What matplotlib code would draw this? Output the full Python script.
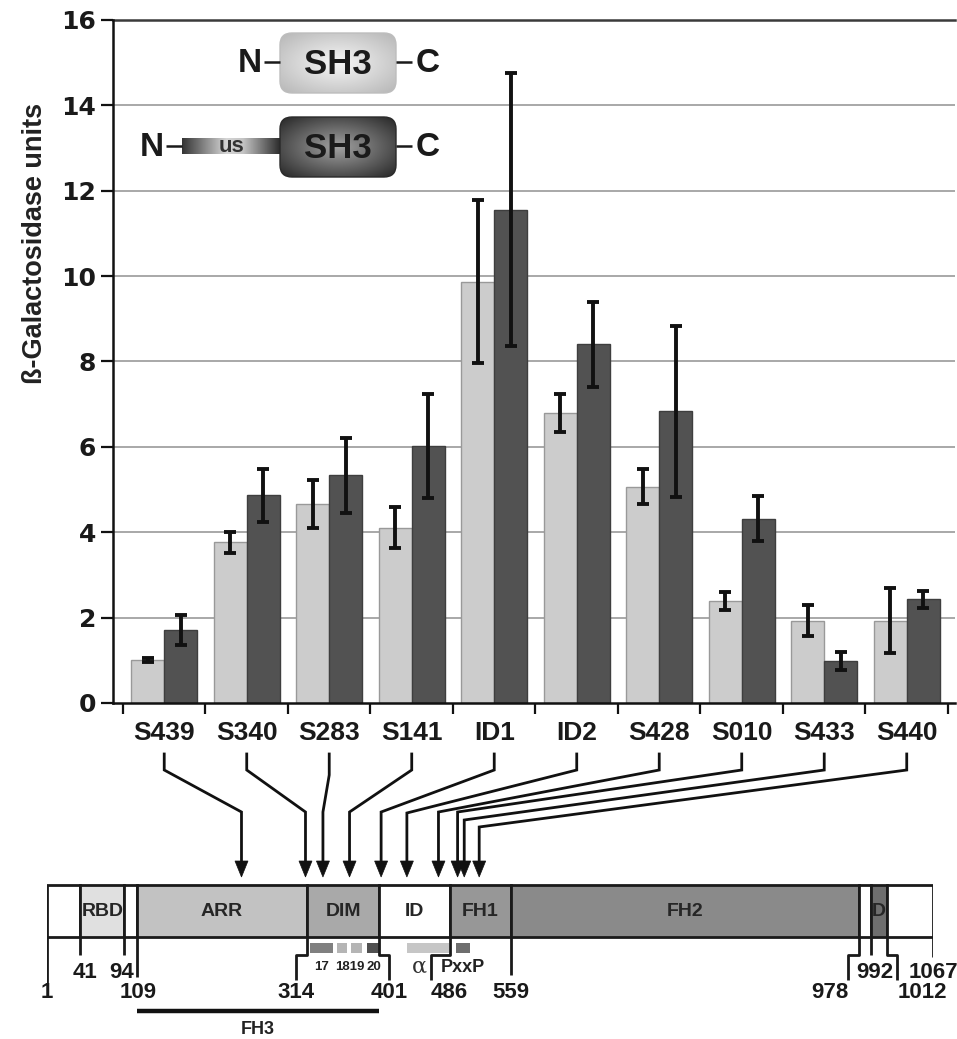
import numpy as np
import matplotlib
matplotlib.use('Agg')
import matplotlib.pyplot as plt
from matplotlib.patches import Rectangle, FancyBboxPatch, Polygon
from matplotlib.colors import LinearSegmentedColormap

plt.rcParams['font.family'] = ['Liberation Sans', 'DejaVu Sans']

# ---------------- data ----------------
categories = ['S439', 'S340', 'S283', 'S141', 'ID1', 'ID2', 'S428', 'S010', 'S433', 'S440']
sh3_mean = [1.00, 3.76, 4.66, 4.11, 9.87, 6.80, 5.07, 2.39, 1.93, 1.93]
sh3_err = [0.05, 0.24, 0.56, 0.49, 1.91, 0.45, 0.40, 0.21, 0.36, 0.77]
us_sh3_mean = [1.71, 4.87, 5.33, 6.03, 11.56, 8.40, 6.83, 4.32, 0.99, 2.43]
us_sh3_err = [0.34, 0.62, 0.87, 1.22, 3.20, 1.00, 2.00, 0.52, 0.21, 0.20]
y_ticks = [0, 2, 4, 6, 8, 10, 12, 14, 16]

# residue in the protein each clone points to
arrow_targets = [235, 312, 333, 365, 403, 434, 472, 495, 503, 521]

domain_starts = [1, 41, 94, 109, 314, 401, 486, 559, 978, 992, 1012]
domain_ends = [41, 94, 109, 314, 401, 486, 559, 978, 992, 1012, 1067]
domain_labels = ['', 'RBD', '', 'ARR', 'DIM', 'ID', 'FH1', 'FH2', '', 'D', '']
domain_colors = ['white', '#e0e0e0', 'white', '#c2c2c2', '#a9a9a9', 'white',
                 '#979797', '#8a8a8a', 'white', '#6e6e6e', 'white']

residue_marks = [1, 41, 94, 109, 314, 401, 486, 559, 978, 992, 1012, 1067]

helix_starts = [317, 350, 367, 386]
helix_ends = [345, 362, 380, 402]
helix_labels = ['17', '18', '19', '20']
helix_colors = ['#808080', '#b5b5b5', '#b5b5b5', '#505050']

alpha_region = (434, 485)
pxxp_region = (493, 510)
fh3_region = (109, 401)

W, H = 957, 1039
fig = plt.figure(figsize=(W / 100, H / 100), dpi=100)

# ---------------- bar chart ----------------
ax = fig.add_axes([113 / W, (H - 703) / H, (955 - 113) / W, (703 - 20) / H])
x = np.arange(len(categories))
for v in y_ticks[1:-1]:
    ax.axhline(v, color='#a8a8a8', lw=1.4, zorder=1)
ax.axhline(16, color='#3a3a3a', lw=1.8, zorder=1, clip_on=False)
ax.bar(x - 0.2, sh3_mean, 0.4, color='#cccccc', edgecolor='#999999', lw=1, zorder=2)
ax.bar(x + 0.2, us_sh3_mean, 0.4, color='#525252', edgecolor='#3e3e3e', lw=1, zorder=2)
ax.errorbar(x - 0.2, sh3_mean, yerr=sh3_err, fmt='none', ecolor='#111111',
            elinewidth=2.8, capsize=4.5, capthick=2.8, zorder=3)
ax.errorbar(x + 0.2, us_sh3_mean, yerr=us_sh3_err, fmt='none', ecolor='#111111',
            elinewidth=2.8, capsize=4.5, capthick=2.8, zorder=3)
ax.set_xlim(-0.621, 9.585)
ax.set_ylim(0, 16)
for s in ['top', 'right']:
    ax.spines[s].set_visible(False)
for s in ['left', 'bottom']:
    ax.spines[s].set_linewidth(1.8)
    ax.spines[s].set_color('#111111')
ax.set_xticks(np.arange(-0.5, len(categories), 1))
ax.set_xticklabels([])
ax.set_xticks(x, minor=True)
ax.set_xticklabels(categories, minor=True, fontsize=19, fontweight='bold', color='#1a1a1a')
ax.tick_params(axis='x', which='major', length=8, width=1.6, direction='out', color='#111111')
ax.tick_params(axis='x', which='minor', length=0, pad=13)
ax.set_yticks(y_ticks)
ax.set_yticklabels([str(v) for v in y_ticks], fontsize=18, fontweight='bold',
                   family='DejaVu Sans', color='#1a1a1a')
ax.tick_params(axis='y', length=9, width=1.6, pad=3, color='#111111')
fig.text(35 / W, (H - 243) / H, 'ß-Galactosidase units', rotation=90, ha='center',
         va='center', fontsize=19.5, fontweight='bold', color='#222222')

# ---------------- protein domain diagram ----------------
ax2 = fig.add_axes([47 / W, 0, 886 / W, 1])
ax2.set_xlim(1, 1067)
ax2.set_ylim(H, 0)
ax2.axis('off')
R = (1067 - 1) / 886.0  # residues per pixel

box_top, box_bot = 885, 937
for s, e, c, lab in zip(domain_starts, domain_ends, domain_colors, domain_labels):
    ax2.add_patch(Rectangle((s, box_top), e - s, box_bot - box_top, facecolor=c,
                            edgecolor='#1a1a1a', lw=2, zorder=2))
    if lab:
        ax2.text((s + e) / 2, (box_top + box_bot) / 2 + 1, lab, ha='center', va='center',
                 fontsize=14, fontweight='bold', color='#262626', zorder=3)

# residue number marks: (line end, label y, jog px, label ha, label dx px)
mark_style = {
    1: (983, 993, 0, 'center', 0),
    41: (955, 973, 0, 'center', 5),
    94: (955, 973, 0, 'center', -3),
    109: (977, 993, 0, 'center', 1),
    314: (980, 993, -11, 'center', 0),
    401: (980, 993, 10, 'center', 0),
    486: (980, 993, -19, 'left', 0),
    559: (975, 993, 0, 'center', 0),
    978: (980, 993, -11, 'right', 0),
    992: (955, 973, 0, 'center', 4),
    1012: (980, 993, 10, 'left', 0),
    1067: (957, 973, 0, 'center', 0),
}
lkw = dict(color='#1a1a1a', lw=2, solid_capstyle='butt', zorder=2)
for r in residue_marks:
    yend, ly, jog, ha, dx = mark_style[r]
    if jog == 0:
        ax2.plot([r, r], [box_bot, yend], **lkw)
        lx = r + dx * R
    else:
        rj = r + jog * R
        ax2.plot([r, r, rj, rj], [box_bot, 955, 955, yend], **lkw)
        lx = rj
    ax2.text(lx, ly, str(r), ha=ha, va='center', fontsize=16, fontweight='bold',
             color='#1a1a1a')

for s, e, lab, c in zip(helix_starts, helix_ends, helix_labels, helix_colors):
    ax2.add_patch(Rectangle((s, 943), e - s, 10, facecolor=c, edgecolor='none'))
hkw = dict(ha='center', va='center', fontsize=9.5, fontweight='bold', color='#222222')
ax2.text((helix_starts[0] + helix_ends[0]) / 2, 967, helix_labels[0], **hkw)
ax2.text((helix_starts[1] + helix_ends[2]) / 2, 967, helix_labels[1] + helix_labels[2], **hkw)
ax2.text((helix_starts[3] + helix_ends[3]) / 2, 967, helix_labels[3], **hkw)

ax2.add_patch(Rectangle((alpha_region[0], 943), alpha_region[1] - alpha_region[0], 10,
                        facecolor='#c6c6c6', edgecolor='none'))
ax2.add_patch(Rectangle((pxxp_region[0], 943), pxxp_region[1] - pxxp_region[0], 10,
                        facecolor='#6e6e6e', edgecolor='none'))
ax2.text(alpha_region[0] + 12 * R, 967, 'α', ha='center', va='center', fontsize=16,
         family='DejaVu Serif', color='#333333')
ax2.text((pxxp_region[0] + pxxp_region[1]) / 2, 967, 'PxxP', ha='center', va='center',
         fontsize=13, fontweight='bold', color='#222222')

ax2.plot(fh3_region, [1011, 1011], color='#111111', lw=3.2, solid_capstyle='butt')
ax2.text(sum(fh3_region) / 2, 1030, 'FH3', ha='center', va='center', fontsize=13,
         fontweight='bold', color='#222222')

# ---------------- overlay (pixel coordinates) ----------------
ax3 = fig.add_axes([0, 0, 1, 1], zorder=5)
ax3.patch.set_alpha(0)
ax3.axis('off')
ax3.set_xlim(0, W)
ax3.set_ylim(H, 0)

inv3 = ax3.transData.inverted()
bend1 = [770, 770, 775, 770, 770, 770, 770, 770, 770, 770]
bend2 = [812, 812, 812, 812, 812, 813, 812, 812, 820, 827]
for i, tgt in enumerate(arrow_targets):
    sx = inv3.transform(ax.transData.transform((x[i], 0)))[0]
    tx = inv3.transform(ax2.transData.transform((tgt, 0)))[0]
    ax3.plot([sx, sx, tx, tx], [754, bend1[i], bend2[i], 863], color='#111111', lw=2.0,
             solid_joinstyle='miter')
    ax3.add_patch(Polygon([[tx - 6.5, 861], [tx + 6.5, 861], [tx, 877]], closed=True,
                          facecolor='#111111', edgecolor='#111111', lw=0.5))

# SH3 constructs cartoon
def radial(c_in, c_out):
    yy, xx = np.mgrid[-1:1:120j, -1:1:240j]
    r = np.clip(np.sqrt(xx ** 2 + (yy * 1.0) ** 2) / np.sqrt(2), 0, 1)
    cm = LinearSegmentedColormap.from_list('g', [c_in, c_out])
    return cm(r)

def gbox(x0, y0, w, h, c_in, c_out, ec):
    p = FancyBboxPatch((x0, y0), w, h, boxstyle='round,pad=0,rounding_size=12',
                       facecolor='none', edgecolor=ec, lw=1.0, zorder=6)
    ax3.add_patch(p)
    im = ax3.imshow(radial(c_in, c_out), extent=(x0, x0 + w, y0 + h, y0), aspect='auto',
                    zorder=5, interpolation='bilinear')
    im.set_clip_path(p)

gbox(280, 33, 116, 60, '#f6f6f6', '#b6b6b6', '#bdbdbd')
gbox(280, 117, 116, 60, '#a2a2a2', '#262626', '#2a2a2a')

# "us" bar with horizontal gradient
us_cm = LinearSegmentedColormap.from_list('us', [(0, '#353535'), (0.45, '#d6d6d6'),
                                                 (0.62, '#c4c4c4'), (1, '#2a2a2a')])
grad = us_cm(np.tile(np.linspace(0, 1, 200), (20, 1)))
ax3.imshow(grad, extent=(182, 281, 154, 138), aspect='auto', zorder=4, interpolation='bilinear')
ax3.set_xlim(0, W)
ax3.set_ylim(H, 0)

tkw = dict(ha='center', va='center', fontweight='bold', color='#1a1a1a', zorder=7)
ax3.text(338, 64, 'SH3', fontsize=25, **tkw)
ax3.text(338, 148, 'SH3', fontsize=25, **tkw)
ax3.text(250, 64, 'N', fontsize=24, **tkw)
ax3.text(428, 64, 'C', fontsize=24, **tkw)
ax3.text(152, 148, 'N', fontsize=24, **tkw)
ax3.text(428, 148, 'C', fontsize=24, **tkw)
ax3.text(232, 146, 'us', fontsize=16, ha='center', va='center', fontweight='bold',
         color='#333333', zorder=7)
dkw = dict(color='#1a1a1a', lw=1.8, zorder=7, solid_capstyle='butt')
ax3.plot([264, 280], [62, 62], **dkw)
ax3.plot([396, 412], [62, 62], **dkw)
ax3.plot([166, 182], [146, 146], **dkw)
ax3.plot([396, 412], [146, 146], **dkw)

fig.savefig('out.png', dpi=100)
